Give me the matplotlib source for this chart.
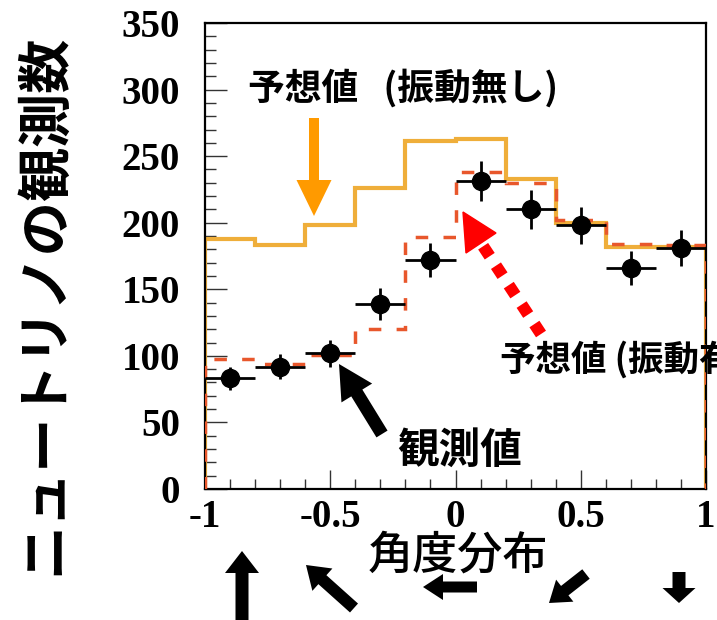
import matplotlib
matplotlib.use("Agg")
import matplotlib.pyplot as plt
from matplotlib.transforms import Affine2D
from matplotlib.lines import Line2D
from matplotlib.patches import Polygon

# ---- data ----
bin_edges = [-1.0, -0.8, -0.6, -0.4, -0.2, 0.0, 0.2, 0.4, 0.6, 0.8, 1.0]
expected_no_osc = [188, 183, 198, 226, 261, 263, 233, 200, 182, 182]
expected_osc = [98, 94, 101, 120, 189, 238, 230, 202, 184, 183]
observed = [83, 92, 102, 139, 172, 231, 210, 198, 166, 181]
observed_err = [9, 9.5, 10, 12, 13, 15, 14.5, 14, 13, 13.5]
xtick_vals = [-1, -0.5, 0, 0.5, 1]
xtick_labels = ["-1", "-0.5", "0", "0.5", "1"]
ytick_vals = [0, 50, 100, 150, 200, 250, 300, 350]
ytick_labels = ["0", "50", "100", "150", "200", "250", "300", "350"]

CJK = ["Noto Sans CJK JP", "DejaVu Sans"]
SERIF = ["Liberation Serif", "DejaVu Serif"]

W, H = 717, 620
fig = plt.figure(figsize=(W / 100, H / 100), dpi=100)
fig.patch.set_facecolor("white")
# pixel transform (origin top-left) for decorations
T = Affine2D().scale(1 / W, -1 / H).translate(0, 1) + fig.transFigure

ax = fig.add_axes([205 / W, 1 - 489 / H, (706 - 205) / W, (489 - 23) / H])
ax.set_xlim(-1, 1)
ax.set_ylim(0, 350)

centers = [(bin_edges[i] + bin_edges[i + 1]) / 2 for i in range(len(bin_edges) - 1)]
half_w = [(bin_edges[i + 1] - bin_edges[i]) / 2 for i in range(len(bin_edges) - 1)]

ax.stairs(expected_no_osc, bin_edges, baseline=0, color="#EFAE3A", lw=3.0, zorder=2)
ax.stairs(expected_osc, bin_edges, baseline=0, color="#E8572C", lw=2.5,
          linestyle=(0, (3.6, 4.4)), zorder=3)
ax.errorbar(centers, observed, xerr=half_w, yerr=observed_err, fmt="o",
            color="black", ms=13, elinewidth=2.0, capsize=0, zorder=5)

for s in ax.spines.values():
    s.set_linewidth(1.6)
    s.set_color("black")

ax.set_xticks(xtick_vals)
ax.set_xticklabels(xtick_labels, fontfamily=SERIF, fontweight="bold", fontsize=28)
ax.set_yticks(ytick_vals)
ax.set_yticklabels(ytick_labels, fontfamily=SERIF, fontweight="bold", fontsize=28)
ax.set_xticks([x / 10 for x in range(-10, 11)], minor=True)
ax.set_yticks(list(range(0, 351, 10)), minor=True)
ax.tick_params(axis="both", which="both", direction="in", color="#333333", width=1.0,
               top=False, right=False)
ax.tick_params(axis="y", which="major", length=16, pad=18)
ax.tick_params(axis="y", which="minor", length=8)
ax.tick_params(axis="x", which="major", length=14, pad=7)
ax.tick_params(axis="x", which="minor", length=7)

# ---- text ----
fig.text(248, 88, "予想値   (振動無し)", transform=T, ha="left", va="center",
         fontsize=26.5, fontweight="bold", family=CJK)
fig.text(500, 360, "予想値 (振動有り)", transform=T, ha="left", va="center",
         fontsize=25.6, fontweight="bold", family=CJK)
fig.text(397, 451, "観測値", transform=T, ha="left", va="center",
         fontsize=30, fontweight="bold", family=CJK)
fig.text(458, 555, "角度分布", transform=T, ha="center", va="center",
         fontsize=32.5, fontweight="medium", family=CJK)
fig.text(45, 304, "ニュートリノの観測数", transform=T, ha="center", va="center",
         rotation=90, fontsize=39, fontweight="bold", family=CJK)


def arrow(tail, tip, hl, hw, tw, color):
    ax.annotate("", xy=(tip[0], H - tip[1]), xycoords="figure pixels",
                xytext=(tail[0], H - tail[1]), textcoords="figure pixels",
                arrowprops=dict(arrowstyle=f"simple,head_length={hl*0.72},"
                                f"head_width={hw*0.72},tail_width={tw*0.72}",
                                mutation_scale=1, fc=color, ec="none", lw=0,
                                shrinkA=0, shrinkB=0),
                annotation_clip=False, zorder=10)


# orange arrow
arrow((314, 118), (314, 216), 36, 35, 10, "#FF9A00")
# black arrow to observed
arrow((382, 434), (339, 364), 34, 36, 13, "black")

# red dotted arrow
shaft = Line2D([541, 481], [334, 243], transform=T, color="red", lw=8.6,
               dashes=(1.0, 0.95), dash_capstyle="butt", zorder=10)
fig.add_artist(shaft)
fig.add_artist(Polygon([[463, 212], [496, 233], [466, 253]], closed=True,
                       transform=T, color="red", zorder=10))

# direction arrows below the axis
arrow((242, 630), (242, 551), 22, 34, 13, "black")
arrow((354, 608), (306, 565), 22, 30, 12, "black")
arrow((477, 587), (423, 587), 20, 26, 11, "black")
arrow((586, 574), (549, 603), 20, 28, 12, "black")
arrow((679, 572), (679, 603), 15, 33, 13, "black")

fig.savefig("out.png", dpi=100, facecolor="white")
